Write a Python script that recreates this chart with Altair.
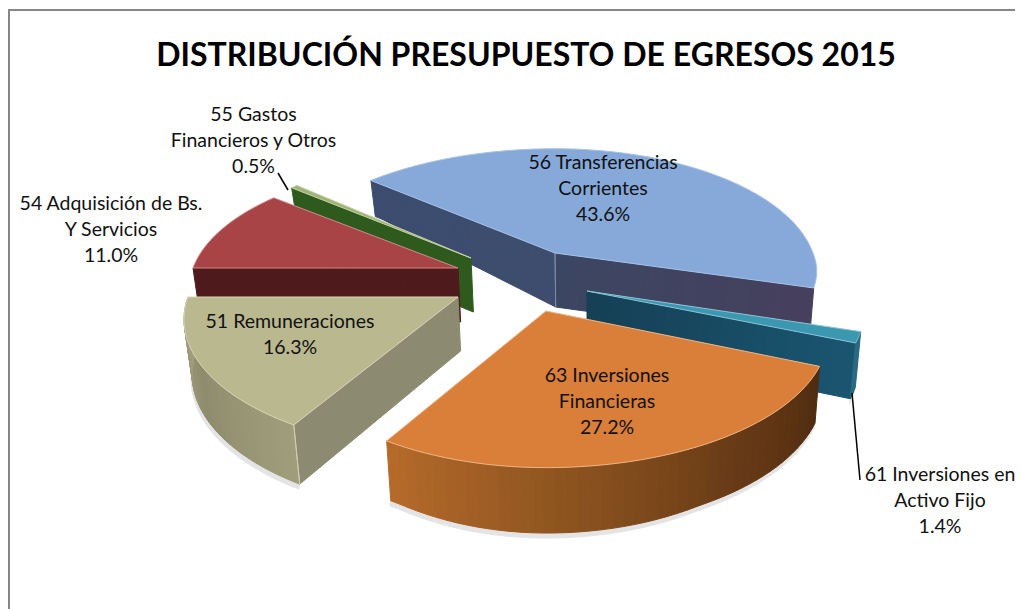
import numpy as np
import altair as alt

# ---- data ----
labels = ["51 Remuneraciones\n16.3%", "54 Adquisición de Bs.\nY Servicios\n11.0%",
          "55 Gastos\nFinancieros y Otros\n0.5%", "56 Transferencias\nCorrientes\n43.6%",
          "61 Inversiones en\nActivo Fijo\n1.4%", "63 Inversiones\nFinancieras\n27.2%"]
shares = [16.3, 11.0, 0.5, 43.6, 1.4, 27.2]
title = "DISTRIBUCIÓN PRESUPUESTO DE EGRESOS 2015"

# ---- layout / style of the tilted, exploded pie ----
FIRST_ANGLE = 270 - 3.6 * shares[0]          # slice 51 ends pointing left
apex = [(458, 297), (458, 268), (471, 258), (555, 253), (587, 291), (546, 311)]
rx_left = [270, 265, 258, 273, 273, 262]
rx_right = [270, 265, 258, 258, 273, 278]
ry_back = [128, 122, 122, 122, 122, 130]
ry_front = [128, 122, 122, 105, 122, 130]
KP = 0.17
label_xy = [(290, 322), (111, 204), (253.5, 115), (603, 163), (940, 475), (607, 376)]
top_col = ["#bab88f", "#a84446", "#9fb27a", "#86a9d9", "#3c97b0", "#d97f39"]
top_edge = ["#d8d6b8", "#d08a8a", "#c4d2a4", "#a8c2e6", "#8cc6d6", "#efb585"]
SHADOW = "#e4e4e4"


def wall_h(y):
    return float(np.interp(y, [183, 253, 300, 445, 470], [36, 54, 54, 60, 66]))


def rim(i, deg):
    t = np.radians(deg)
    s, c = np.sin(t), np.cos(t)
    f = 1 / (1 + KP * c)
    rx = rx_left[i] if s < 0 else rx_right[i]
    ry = ry_back[i] if c > 0 else ry_front[i]
    return (apex[i][0] + rx * s * f, apex[i][1] - ry * c * f)


def down(p):
    return (p[0] + (590 - p[0]) * 0.02, p[1] + wall_h(p[1]))


def poly(pts, fill, stroke=None):
    ring = [[float(x), float(y)] for x, y in pts]
    ring.append(ring[0])
    return {"type": "Feature",
            "geometry": {"type": "Polygon", "coordinates": [ring]},
            "properties": {"fill": fill, "stroke": stroke or fill}}


def lerp_hex(a, b, t):
    a = [int(a[k:k + 2], 16) for k in (1, 3, 5)]
    b = [int(b[k:k + 2], 16) for k in (1, 3, 5)]
    return "#%02x%02x%02x" % tuple(int(round(u + (v - u) * t)) for u, v in zip(a, b))


edges = np.cumsum([0] + [3.6 * v for v in shares]) + FIRST_ANGLE


def arc_pts(i, n=48):
    return [rim(i, d) for d in np.linspace(edges[i], edges[i + 1], n)]


def top(i):
    return poly([apex[i]] + arc_pts(i), top_col[i], top_edge[i])


def face(i, p, col_a, col_b=None, n=24):
    col_b = col_b or col_a
    q = apex[i]
    out = []
    for k in range(n):
        u, v = k / n, (k + 1) / n
        a = (p[0] + (q[0] - p[0]) * u, p[1] + (q[1] - p[1]) * u)
        b = (p[0] + (q[0] - p[0]) * v, p[1] + (q[1] - p[1]) * v)
        out.append(poly([a, b, down(b), down(a)], lerp_hex(col_a, col_b, u)))
    return out


def outer_wall(i, a, b, stops, n=48):
    pts = [rim(i, d) for d in np.linspace(a, b, n + 1)]
    out = []
    for k in range(n):
        t = k / (n - 1) * (len(stops) - 1)
        j = min(int(t), len(stops) - 2)
        out.append(poly([pts[k], pts[k + 1], down(pts[k + 1]), down(pts[k])],
                        lerp_hex(stops[j], stops[j + 1], t - j)))
    return out


def shadow(i, a, b, dx=-1, dy=5, n=48):
    pts = [down(rim(i, d)) for d in np.linspace(a, b, n + 1)]
    return [poly(pts + [(x + dx, y + dy) for x, y in reversed(pts)], SHADOW)]


def ridge(p, col):
    return [poly([p, down(p)], col)]


features = []
features += shadow(5, edges[5], edges[6]) + shadow(0, edges[0], edges[1]) + shadow(4, edges[4], edges[5])
# 56 back slice
features += face(3, rim(3, edges[3]), "#3b4c6f", "#3e4d6d") + face(3, rim(3, edges[4]), "#46405e", "#3b4662")
features += ridge(apex[3], "#7f89a3") + [top(3)]
# 61 sliver
features += face(4, rim(4, edges[5]), "#1a5570", "#153f55") + outer_wall(4, edges[4], edges[5], ["#2a6a80", "#2a6a80"], 4) + [top(4)]
# 55 sliver
features += face(2, rim(2, edges[2]), "#2f5a1e") + [top(2)]
# 54
features += face(1, rim(1, edges[1]), "#4f1a1c") + [top(1)]
# 51
features += outer_wall(0, edges[0], edges[1], ["#a09d7b", "#8f8c6e", "#a5a282"]) + face(0, rim(0, edges[0]), "#8c8a70")
features += ridge(rim(0, edges[0]), "#cfcdb5") + [top(0)]
# 63
features += outer_wall(5, edges[5], edges[6], ["#4f2c10", "#6a3c16", "#8f5520", "#b56a2a"]) + [top(5)]

proj = dict(type="identity", scale=1, translate=[-8, -8])

frame = {"type": "Feature", "properties": {},
         "geometry": {"type": "LineString", "coordinates": [[9, 620], [9, 10], [1030, 10]]}}
leaders = [{"type": "Feature", "properties": {},
            "geometry": {"type": "LineString", "coordinates": c}}
           for c in ([[278, 173], [288, 190]], [[852, 393], [860, 480]])]

frame_layer = alt.Chart(alt.Data(values=[frame])).mark_geoshape(
    filled=False, stroke="#868686", strokeWidth=2).project(**proj)
pie = alt.Chart(alt.Data(values=features)).mark_geoshape(strokeWidth=1).encode(
    fill=alt.Fill("properties.fill:N", scale=None),
    stroke=alt.Stroke("properties.stroke:N", scale=None),
    order=alt.Order("i:Q"),
).transform_window(i="row_number()").project(**proj)
lead = alt.Chart(alt.Data(values=leaders)).mark_geoshape(
    filled=False, stroke="black", strokeWidth=1.5).project(**proj)

rows = [{"t": t, "lon": p[0], "lat": p[1]} for t, p in zip(labels, label_xy)]
text = alt.Chart(alt.Data(values=rows)).mark_text(
    font="Lato", fontSize=19.5, lineHeight=26, lineBreak="\n", align="center",
    baseline="middle", color="#111111"
).encode(longitude="lon:Q", latitude="lat:Q", text="t:N").project(**proj)
title_rows = [{"t": title, "lon": 526, "lat": 56}]
title_mark = alt.Chart(alt.Data(values=title_rows)).mark_text(
    font="Lato", fontSize=32, fontWeight="bold", align="center", baseline="middle", color="#000000"
).encode(longitude="lon:Q", latitude="lat:Q", text="t:N").project(**proj)

chart = alt.layer(frame_layer, pie, lead, text, title_mark).properties(
    width=1007, height=601, padding=0, background="white"
).configure_view(stroke=None)

chart.save("out.html", embed_options={"renderer": "svg", "actions": False})
